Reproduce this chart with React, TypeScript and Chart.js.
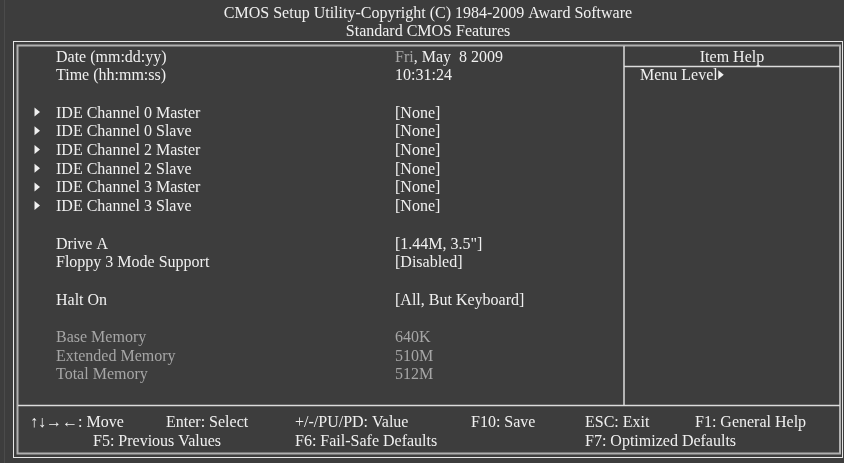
import React, { useEffect, useRef } from "react";
import { Chart, registerables } from "chart.js";

Chart.register(...registerables);

const titleLines = [
  "CMOS Setup Utility-Copyright (C) 1984-2009 Award Software",
  "Standard CMOS Features",
];
const itemLabels = [
  "Date (mm:dd:yy)",
  "Time (hh:mm:ss)",
  "IDE Channel 0 Master",
  "IDE Channel 0 Slave",
  "IDE Channel 2 Master",
  "IDE Channel 2 Slave",
  "IDE Channel 3 Master",
  "IDE Channel 3 Slave",
  "Drive A",
  "Floppy 3 Mode Support",
  "Halt On",
  "Base Memory",
  "Extended Memory",
  "Total Memory",
];
const itemRows = [0, 1, 3, 4, 5, 6, 7, 8, 10, 11, 13, 15, 16, 17];
const itemValuePrefix = ["Fri", "", "", "", "", "", "", "", "", "", "", "", "", ""];
const itemValues = [
  ", May  8 2009",
  "10:31:24",
  "[None]",
  "[None]",
  "[None]",
  "[None]",
  "[None]",
  "[None]",
  "[1.44M, 3.5\"]",
  "[Disabled]",
  "[All, But Keyboard]",
  "640K",
  "510M",
  "512M",
];
const submenuFlags = [false, false, true, true, true, true, true, true, false, false, false, false, false, false];
const dimmedFlags = [false, false, false, false, false, false, false, false, false, false, false, true, true, true];
const helpTitle = "Item Help";
const helpLine = "Menu Level";
const footerRow1 = ["↑↓→←: Move", "Enter: Select", "+/-/PU/PD: Value", "F10: Save", "ESC: Exit", "F1: General Help"];
const footerRow1X = [30, 166, 295, 471, 585, 695];
const footerRow2 = ["F5: Previous Values", "F6: Fail-Safe Defaults", "F7: Optimized Defaults"];
const footerRow2X = [93, 295, 585];

const W = 844;
const H = 463;
const BG = "#3d3d3d";
const FG = "#f0f0f0";
const DIM = "#a6a6a6";
const FONT = "16px 'Liberation Serif', 'Times New Roman', serif";
const ROW0 = 61.5;
const ROWH = 18.7;
const LABEL_X = 56;
const VALUE_X = 395;
const ARROW_X = 34.5;

const screenPlugin = {
  id: "biosScreen",
  beforeDraw(chart: any) {
    const { ctx } = chart;
    const xs = chart.scales.x;
    const ys = chart.scales.y;
    const px = (v: number) => xs.getPixelForValue(v);
    const py = (v: number) => ys.getPixelForValue(v);
    ctx.save();
    ctx.fillStyle = BG;
    ctx.fillRect(px(0), py(0), px(W) - px(0), py(H) - py(0));

    const line = (x1: number, y1: number, x2: number, y2: number, color: string, w: number) => {
      ctx.beginPath();
      ctx.strokeStyle = color;
      ctx.lineWidth = w;
      ctx.moveTo(px(x1), py(y1));
      ctx.lineTo(px(x2), py(y2));
      ctx.stroke();
    };
    // faint left edge line
    line(4.5, 0, 4.5, H, "#4b4b4b", 1);
    // outer frame
    ctx.strokeStyle = "#e6e6e6";
    ctx.lineWidth = 1;
    ctx.strokeRect(px(13.5), py(41.5), px(842.5) - px(13.5), py(457.5) - py(41.5));
    // inner frame
    ctx.strokeStyle = "#b0b0b0";
    ctx.lineWidth = 2;
    ctx.strokeRect(px(17.5), py(45.5), px(840) - px(17.5), py(453.5) - py(45.5));
    // dividers
    line(18, 405.5, 840, 405.5, "#dcdcdc", 1.5);
    line(624, 46, 624, 405, "#dcdcdc", 1.5);
    line(624, 66.5, 840, 66.5, "#dcdcdc", 1.5);

    ctx.font = FONT;
    ctx.textBaseline = "alphabetic";
    // title
    ctx.fillStyle = FG;
    ctx.textAlign = "center";
    ctx.fillText(titleLines[0], px(428), py(18));
    ctx.fillText(titleLines[1], px(428), py(36));
    // help
    ctx.fillText(helpTitle, px(732), py(ROW0));
    ctx.textAlign = "left";
    ctx.fillText(helpLine, px(640), py(ROW0 + ROWH));
    const hw = ctx.measureText(helpLine).width;
    const tri = (x: number, base: number) => {
      ctx.beginPath();
      ctx.fillStyle = FG;
      ctx.moveTo(px(x), py(base - 10));
      ctx.lineTo(px(x + 5.5), py(base - 5.5));
      ctx.lineTo(px(x), py(base - 1));
      ctx.closePath();
      ctx.fill();
    };
    tri(px(640) + hw + 0.5, ROW0 + ROWH);

    // items
    itemLabels.forEach((lab, i) => {
      const b = ROW0 + itemRows[i] * ROWH;
      const col = dimmedFlags[i] ? DIM : FG;
      if (submenuFlags[i]) tri(ARROW_X, b);
      ctx.fillStyle = col;
      ctx.fillText(lab, px(LABEL_X), py(b));
      let x = px(VALUE_X);
      if (itemValuePrefix[i]) {
        ctx.fillStyle = DIM;
        ctx.fillText(itemValuePrefix[i], x, py(b));
        x += ctx.measureText(itemValuePrefix[i]).width;
      }
      ctx.fillStyle = col;
      ctx.fillText(itemValues[i], x, py(b));
    });

    // footer
    ctx.fillStyle = FG;
    footerRow1.forEach((t, i) => ctx.fillText(t, px(footerRow1X[i]), py(427)));
    footerRow2.forEach((t, i) => ctx.fillText(t, px(footerRow2X[i]), py(445.5)));
    ctx.restore();
  },
};

export default function App() {
  const ref = useRef<HTMLCanvasElement | null>(null);
  useEffect(() => {
    if (!ref.current) return;
    const chart = new Chart(ref.current, {
      type: "scatter",
      data: {
        datasets: [
          {
            data: itemLabels.map((_, i) => ({ x: LABEL_X, y: ROW0 + itemRows[i] * ROWH })),
            pointRadius: 0,
            pointHoverRadius: 0,
          },
        ],
      },
      options: {
        responsive: false,
        animation: false,
        events: [],
        layout: { padding: 0 },
        plugins: { legend: { display: false }, tooltip: { enabled: false } },
        scales: {
          x: { type: "linear", min: 0, max: W, display: false },
          y: { type: "linear", min: 0, max: H, reverse: true, display: false },
        },
      },
      plugins: [screenPlugin],
    });
    return () => chart.destroy();
  }, []);
  return (
    <div style={{ position: "fixed", left: 0, top: 0, width: W, height: H, background: BG }}>
      <canvas ref={ref} width={W} height={H} style={{ display: "block", width: W, height: H }} />
    </div>
  );
}
